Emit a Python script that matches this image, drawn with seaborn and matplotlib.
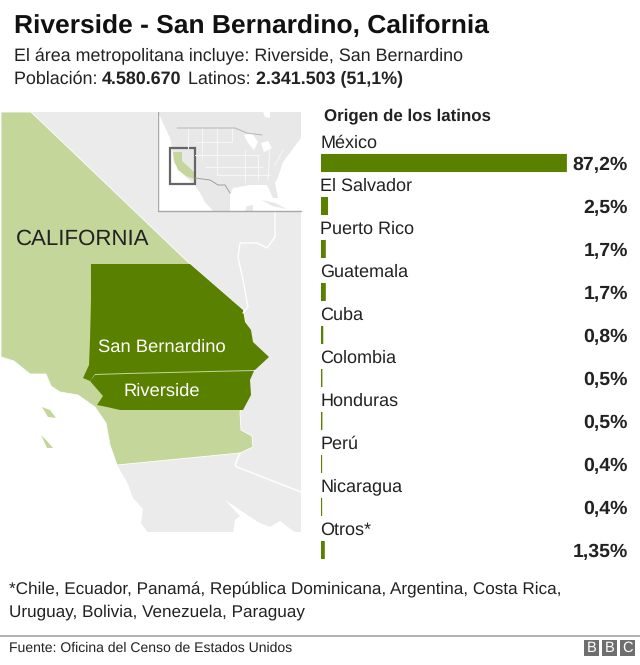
import matplotlib
matplotlib.use('Agg')
import matplotlib.pyplot as plt
from matplotlib.patches import Polygon, Rectangle
import pandas as pd
import seaborn as sns

origins = ['México', 'El Salvador', 'Puerto Rico', 'Guatemala', 'Cuba', 'Colombia',
           'Honduras', 'Perú', 'Nicaragua', 'Otros*']
shares = [87.2, 2.5, 1.7, 1.7, 0.8, 0.5, 0.5, 0.4, 0.4, 1.35]
share_labels = ['87,2%', '2,5%', '1,7%', '1,7%', '0,8%', '0,5%', '0,5%', '0,4%', '0,4%', '1,35%']

GREEN = '#5a8000'
LIGHT = '#c5d69b'
LAND = '#ebebeb'

# map outlines, in image pixels
sea = [(1, 357), (14, 361), (30, 374), (46, 374), (51, 386), (60, 392), (78, 395), (95, 407),
       (106, 423), (110, 445), (117, 465), (127, 482), (133, 498), (143, 509), (141, 523),
       (148, 533), (1, 533)]
sea_right = [(233, 533), (235, 520), (240, 516), (225, 500), (240, 510), (258, 522), (270, 527),
             (280, 521), (296, 533)]
california = [(1, 112), (31, 112), (190, 264), (243, 310), (255, 371), (250, 372), (240, 412),
              (241, 430), (252, 436), (253, 447), (240, 453), (117, 465), (110, 445), (106, 423),
              (95, 407), (78, 395), (60, 392), (51, 386), (46, 374), (30, 374), (14, 361), (1, 357)]
san_bernardino = [(91, 264), (190, 264), (243, 310), (245, 322), (251, 330), (253, 342), (269, 357),
                  (255, 370), (210, 371), (127, 373), (95, 374), (90, 381), (83, 378), (89, 365),
                  (90, 340), (91, 300)]
riverside = [(95, 375), (127, 374), (210, 372), (254, 371), (250, 380), (251, 395), (243, 410),
             (120, 410), (107, 407), (97, 405), (103, 396), (90, 381)]
island_a = [(42, 407), (50, 410), (56, 418), (48, 417)]
island_b = [(41, 435), (47, 441), (53, 448), (47, 448)]
nevada_line = [(275, 212), (275, 237), (267, 248), (257, 243), (240, 243), (238, 257), (243, 280),
               (248, 307), (243, 313)]
arizona_line = [(240, 453), (235, 465), (237, 467), (301, 492)]

inset_land = [(158, 112), (170, 138), (172, 148), (174, 163), (186, 177), (195, 185), (205, 202),
              (213, 211), (230, 211), (230, 195), (233, 188), (250, 185), (267, 185), (273, 198),
              (278, 198), (275, 183), (278, 177), (283, 162), (301, 138), (301, 112)]
inset_ca = [(173, 152), (182, 152), (182, 161), (194, 172), (194, 179), (186, 176), (178, 170), (174, 160)]
inset_gulf = [(196, 186), (203, 198), (205, 204), (200, 194)]
inset_yucatan = [(245, 211), (247, 206), (253, 205), (253, 211)]
inset_cuba = [(262, 200), (275, 203), (287, 209), (272, 206)]
canada_line = [(177, 128), (235, 128), (247, 133), (262, 135)]
mexico_line = [(195, 178), (210, 180), (218, 185), (225, 185), (230, 193)]
state_lines = [[(188, 128), (188, 148)], [(202, 128), (202, 158)], [(217, 128), (217, 175)],
               [(232, 128), (232, 142)], [(195, 142), (232, 142)], [(195, 155), (260, 155)],
               [(205, 167), (262, 167)], [(217, 175), (270, 175)], [(245, 150), (245, 182)],
               [(258, 155), (258, 180)], [(270, 145), (268, 180)], [(283, 150), (275, 165)]]
inset_lakes = [[(244, 135), (252, 133), (258, 142), (254, 150), (248, 143)],
               [(261, 143), (268, 141), (272, 148), (264, 152)],
               [(263, 112), (270, 112), (270, 118), (265, 117)]]
footnote = ['*Chile, Ecuador, Panamá, República Dominicana, Argentina, Costa Rica,',
            'Uruguay, Bolivia, Venezuela, Paraguay']

sns.set_theme(style='white')
plt.rcParams['font.family'] = ['Liberation Sans', 'DejaVu Sans']
plt.rcParams['text.hinting'] = 'none'

fig = plt.figure(figsize=(6.4, 6.65), dpi=100)
bg = fig.add_axes([0, 0, 1, 1])
bg.set_xlim(0, 640)
bg.set_ylim(665, 0)
bg.axis('off')

# main map
bg.add_patch(Rectangle((1, 112), 300, 419.5, fc=LAND, ec='none'))
bg.plot(*zip(*nevada_line), color='white', lw=1)
bg.plot(*zip(*arizona_line), color='white', lw=1)
bg.add_patch(Polygon(sea, fc='white', ec='none'))
bg.add_patch(Polygon(sea_right, fc='white', ec='none'))
bg.add_patch(Polygon(california, fc=LIGHT, ec='white', lw=0.6))
bg.add_patch(Polygon(island_a, fc=LIGHT, ec='none'))
bg.add_patch(Polygon(island_b, fc=LIGHT, ec='none'))
bg.add_patch(Polygon(san_bernardino, fc=GREEN, ec='none'))
bg.add_patch(Polygon(riverside, fc=GREEN, ec='none'))
bg.text(16, 239, 'CALIFORNIA', fontsize=16, color='#222222', va='center')
bg.text(98, 347, 'San Bernardino', fontsize=13.2, color='white', va='center')
bg.text(123, 391, 'Riverside', fontsize=13.2, color='white', va='center')

# locator inset
bg.add_patch(Rectangle((157, 112), 144, 99, fc='white', ec='none'))
bg.add_patch(Polygon(inset_land, fc='#e8e8e8', ec='none'))
bg.add_patch(Polygon(inset_yucatan, fc='#e8e8e8', ec='none'))
bg.add_patch(Polygon(inset_cuba, fc='#e8e8e8', ec='none'))
bg.add_patch(Polygon(inset_gulf, fc='white', ec='none'))
for lake in inset_lakes:
    bg.add_patch(Polygon(lake, fc='white', ec='none'))
for seg in state_lines:
    bg.plot(*zip(*seg), color='#f6f6f6', lw=0.8)
bg.plot(*zip(*canada_line), color='#b5b5b5', lw=0.7)
bg.plot(*zip(*mexico_line), color='#a0a0a0', lw=0.7)
bg.add_patch(Polygon(inset_ca, fc=LIGHT, ec='none'))
bg.add_patch(Rectangle((170, 148), 25, 36, fc='none', ec='#666666', lw=1.6))
bg.plot([157.5, 157.5, 301], [112, 211, 211], color='#a8a8a8', lw=1)

# header
bg.text(14, 26, 'Riverside - San Bernardino, California', fontsize=19, fontweight='bold',
        color='#111111', va='center')
bg.text(14, 56, 'El área metropolitana incluye: Riverside, San Bernardino', fontsize=12.85,
        color='#222222', va='center')
bg.text(14, 79, 'Población: ', fontsize=12.85, color='#222222', va='center')
bg.text(102, 79, '4.580.670', fontsize=12.85, fontweight='bold', color='#222222', va='center')
bg.text(188, 79, 'Latinos: ', fontsize=12.85, color='#222222', va='center')
bg.text(256, 79, '2.341.503 (51,1%)', fontsize=12.85, fontweight='bold', color='#222222', va='center')
bg.text(324, 116, 'Origen de los latinos', fontsize=12.2, fontweight='bold', color='#222222', va='center')

# footer
bg.text(9, 590, footnote[0], fontsize=12.3, color='#222222', va='center')
bg.text(9, 612, footnote[1], fontsize=12.3, color='#222222', va='center')
bg.plot([0, 640], [635.5, 635.5], color='#b0b0b0', lw=1.4)
bg.text(9, 648, 'Fuente: Oficina del Censo de Estados Unidos', fontsize=10.1, color='#222222', va='center')
for x, letter in zip([584, 602, 620], 'BBC'):
    bg.add_patch(Rectangle((x, 640), 15, 15.5, fc='#6e6e6e', ec='none'))
    bg.text(x + 7.5, 648, letter, fontsize=10.5, color='white', ha='center', va='center')

# bars
ax = fig.add_axes([321 / 640, 1 - 571.5 / 665, 319 / 640, 430 / 665])
ax.patch.set_alpha(0)
df = pd.DataFrame({'origin': origins, 'share': shares})
sns.barplot(data=df, x='share', y='origin', color=GREEN, width=0.42, saturation=1,
            linewidth=0, edgecolor='none', ax=ax)
for bar in ax.patches:
    bar.set_snap(False)
ax.set_xlim(0, 319 / 2.82)
ax.set_ylim(9.5, -0.5)
ax.set_xlabel('')
ax.set_ylabel('')
ax.set_xticks([])
ax.set_yticks([])
sns.despine(ax=ax, left=True, bottom=True)
trans = ax.get_yaxis_transform()
for i, (name, label) in enumerate(zip(origins, share_labels)):
    ax.text(-0.003, i - 0.47, name, transform=trans, fontsize=13, color='#222222', va='center', clip_on=False)
    ax.text(0.962, i + 0.05, label, transform=trans, fontsize=14, fontweight='bold', color='#222222',
            ha='right', va='center', clip_on=False)

fig.savefig('out.png', dpi=100)
